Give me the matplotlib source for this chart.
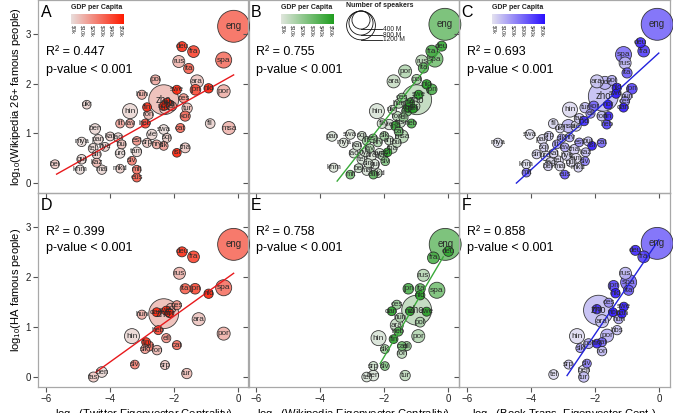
import matplotlib
matplotlib.use("Agg")
import matplotlib.pyplot as plt
import numpy as np
from matplotlib.colors import LinearSegmentedColormap
from matplotlib.patches import Circle

plt.rcParams["font.family"] = ["Liberation Sans", "DejaVu Sans"]
plt.rcParams["mathtext.default"] = "regular"

# speakers (millions) and GDP per capita ($k) per language
langs_info = ["eng", "zho", "spa", "hin", "ara", "por", "msa", "rus", "fra", "ben", "jpn", "deu",
              "ita", "tur", "kor", "vie", "pol", "ukr", "fas", "tha", "urd", "tam", "tel", "pan",
              "guj", "mal", "kaz", "sin", "mya", "khm", "swa", "fil", "ind", "nld", "swe", "dan",
              "nor", "fin", "isl", "ces", "slk", "slv", "hrv", "srp", "hbs", "bul", "mkd", "sqi",
              "ell", "ron", "hun", "est", "lav", "lit", "kat", "hye", "lao", "bel", "mlt", "eus",
              "cat", "heb"]
speakers = [1500, 1300, 290, 240, 150, 150, 150, 110, 100, 60, 60, 40,
            45, 50, 45, 50, 35, 0, 40, 35, 30, 30, 30, 30,
            25, 20, 8, 10, 20, 10, 30, 30, 20, 20, 10, 6,
            5, 5, 0.3, 11, 5, 2, 5, 9, 18, 8, 2, 7,
            13, 24, 13, 1, 2, 3, 4, 6, 15, 5, 0.5, 0.8,
            10, 9]
gdp = [30, 9, 28, 2, 7, 12, 11, 11, 40, 2, 39, 46,
       33, 9, 30, 2, 14, 3, 6, 6, 1, 2, 2, 2,
       2, 2, 10, 4, 1, 1, 1, 3, 45, 52, 54, 60,
       80, 47, 70, 20, 18, 25, 14, 6, 8, 8, 5, 5,
       20, 10, 13, 20, 15, 16, 4, 4, 2, 6, 28, 35,
       30, 40]

a_lang = ["eng", "deu", "fra", "rus", "ita", "spa", "pol", "ara", "jpn", "nld", "por", "hun", "zho",
          "swe", "ces", "fin", "ron", "tur", "kor", "hin", "ukr", "fil", "msa", "cat", "swa", "sqi",
          "vie", "ben", "lit", "lav", "heb", "est", "bul", "urd", "tam", "mya", "pan", "tel", "kat",
          "hye", "lao", "srp", "hrv", "slk", "tha", "isl", "sin", "guj", "kaz", "bel", "khm", "mal",
          "mkd", "slv", "mlt", "eus", "dan", "nor", "ell", "fas", "ind"]
a_x = [-0.15, -1.76, -1.40, -1.86, -1.55, -0.46, -2.59, -1.29, -1.34, -0.93, -0.46, -3.01, -2.33,
       -1.92, -1.71, -2.85, -2.80, -1.60, -1.66, -3.38, -4.73, -0.88, -0.30, -1.81, -2.33, -2.23,
       -2.70, -4.47, -3.69, -3.38, -2.90, -3.17, -3.64, -3.69, -3.17, -4.89, -4.37, -4.53, -4.00,
       -4.16, -3.75, -2.85, -2.55, -2.33, -1.66, -1.92, -4.42, -4.89, -4.42, -5.72, -4.94, -4.26,
       -3.69, -3.32, -3.17, -3.17, -2.23, -2.33, -2.07, -2.30, -2.15]
a_y = [3.16, 2.75, 2.65, 2.45, 2.31, 2.48, 2.08, 2.05, 1.88, 1.91, 1.85, 1.78, 1.68,
       1.88, 1.71, 1.53, 1.38, 1.51, 1.35, 1.45, 1.58, 1.20, 1.11, 1.11, 1.08, 0.91,
       0.98, 1.09, 1.20, 1.20, 1.20, 0.85, 0.78, 0.60, 0.63, 0.83, 0.88, 0.70, 0.94,
       0.73, 0.92, 0.81, 0.78, 0.75, 0.71, 0.61, 0.58, 0.48, 0.41, 0.38, 0.27, 0.27,
       0.29, 0.45, 0.27, 0.11, 1.62, 1.55, 1.55, 1.50, 1.58]

b_lang = ["eng", "deu", "fra", "spa", "rus", "ita", "por", "ara", "pol", "nld", "jpn", "zho", "swe",
          "ces", "fin", "hun", "tur", "kor", "dan", "nor", "hin", "ukr", "ron", "ell", "fil", "heb",
          "vie", "ind", "fas", "cat", "msa", "pan", "swa", "mya", "bul", "srp", "slk", "hrv", "est",
          "lit", "lav", "tha", "sqi", "kat", "hye", "urd", "tam", "tel", "lao", "sin", "guj", "kaz",
          "bel", "mal", "mkd", "isl", "slv", "khm", "mlt", "eus"]
b_x = [-0.11, -0.21, -0.52, -0.42, -0.83, -0.78, -1.35, -1.71, -0.99, -0.68, -0.52, -0.99, -0.93,
       -1.45, -1.20, -1.55, -1.05, -1.30, -1.25, -1.10, -2.23, -1.75, -1.60, -1.40, -2.07, -1.15,
       -1.85, -1.65, -1.50, -1.55, -1.45, -3.63, -3.06, -3.27, -1.61, -1.85, -2.00, -2.20, -2.35,
       -2.55, -2.45, -1.75, -2.70, -2.85, -2.60, -2.40, -2.15, -2.70, -2.95, -2.50, -2.30, -2.05,
       -2.80, -2.55, -2.20, -1.90, -1.97, -3.58, -3.06, -2.34]
b_y = [3.20, 2.76, 2.66, 2.50, 2.46, 2.32, 2.25, 2.05, 2.09, 1.99, 1.89, 1.68, 1.78,
       1.72, 1.62, 1.60, 1.55, 1.45, 1.52, 1.50, 1.45, 1.48, 1.35, 1.32, 1.20, 1.20,
       1.18, 1.15, 1.22, 1.04, 0.94, 0.94, 0.98, 0.81, 0.81, 0.86, 0.95, 0.82, 0.90,
       0.85, 0.70, 0.70, 0.95, 0.75, 0.62, 0.55, 0.60, 0.48, 0.60, 0.40, 0.38, 0.55,
       0.30, 0.25, 0.20, 0.62, 0.44, 0.31, 0.17, 0.17]

c_lang = ["eng", "deu", "fra", "spa", "rus", "ita", "ara", "pol", "por", "nld", "jpn", "hun", "ces",
          "dan", "zho", "swe", "fin", "ron", "tur", "kor", "hin", "nor", "ell", "heb", "fas", "ind",
          "vie", "cat", "bul", "fil", "msa", "ukr", "swa", "mya", "srp", "slk", "hrv", "est", "lit",
          "lav", "tha", "sqi", "kat", "hye", "urd", "tam", "sin", "tel", "guj", "lao", "kaz", "isl",
          "khm", "mlt", "eus", "mkd", "bel", "mal", "slv", "pan"]
c_x = [-0.07, -0.59, -0.49, -1.12, -1.07, -1.01, -1.95, -1.48, -1.70, -1.33, -0.86, -1.01, -1.07,
       -1.12, -1.75, -1.35, -1.59, -1.80, -2.32, -2.05, -2.79, -1.60, -2.15, -1.64, -2.50, -2.35,
       -2.60, -1.80, -2.22, -3.31, -2.84, -3.10, -4.04, -5.04, -3.45, -3.05, -2.80, -2.50, -3.20,
       -2.95, -2.65, -3.60, -3.30, -2.90, -3.55, -2.60, -3.83, -3.15, -2.75, -3.40, -2.30, -2.10,
       -4.15, -4.15, -2.95, -2.53, -3.47, -3.10, -2.32, -3.65]
c_y = [3.20, 2.83, 2.66, 2.59, 2.42, 2.22, 2.05, 2.07, 2.02, 1.92, 1.90, 1.75, 1.65,
       1.52, 1.75, 1.80, 1.35, 1.35, 1.52, 1.55, 1.48, 1.58, 1.40, 1.18, 1.30, 1.25,
       1.15, 0.81, 0.84, 1.20, 1.15, 1.10, 0.98, 0.81, 0.95, 0.90, 0.92, 0.82, 0.78,
       0.72, 0.68, 0.72, 0.60, 0.55, 0.55, 0.50, 0.58, 0.45, 0.42, 0.42, 0.62, 0.75,
       0.38, 0.21, 0.17, 0.31, 0.34, 0.34, 0.44, 0.88]

d_lang = ["eng", "deu", "fra", "rus", "ita", "jpn", "nld", "spa", "zho", "ces", "pol", "swe", "dan",
          "nor", "hun", "ara", "hin", "heb", "fin", "ell", "cat", "por", "slk", "ron", "kor", "slv",
          "srp", "tur", "fas", "ben"]
d_x = [-0.15, -1.76, -1.40, -1.84, -1.66, -1.35, -0.93, -0.46, -2.33, -1.92, -2.10, -2.25, -2.55,
       -2.15, -3.01, -1.24, -3.32, -2.50, -2.88, -2.25, -1.92, -0.46, -2.91, -2.54, -2.80, -3.23,
       -2.29, -1.61, -4.52, -4.26]
d_y = [2.66, 2.51, 2.41, 2.08, 1.77, 1.77, 1.67, 1.79, 1.27, 1.44, 1.38, 1.33, 1.30,
       1.28, 1.25, 1.16, 0.82, 0.94, 0.70, 0.78, 0.64, 0.87, 0.56, 0.54, 0.62, 0.25,
       0.24, 0.07, 0.00, 0.10]

e_lang = ["eng", "deu", "fra", "rus", "jpn", "ita", "spa", "nld", "zho", "ces", "dan", "swe", "nor",
          "pol", "hun", "ara", "heb", "hin", "por", "fin", "cat", "ron", "slk", "slv", "srp", "ben",
          "tel", "tur", "ell"]
e_x = [-0.10, 0.00, -0.47, -0.78, -1.25, -0.88, -0.36, -0.88, -0.99, -1.61, -1.77, -0.68, -1.20,
       -0.88, -1.51, -1.61, -1.56, -2.18, -0.94, -1.71, -1.45, -1.45, -1.98, -1.98, -2.34, -2.34,
       -2.55, -1.35, -1.30]
e_y = [2.66, 2.52, 2.39, 2.04, 1.77, 1.77, 1.74, 1.64, 1.34, 1.45, 1.32, 1.31, 1.32,
       1.10, 1.19, 1.04, 0.91, 0.78, 0.82, 0.76, 0.62, 0.47, 0.56, 0.22, 0.22, 0.03,
       0.00, 0.03, 0.62]

f_lang = ["eng", "deu", "fra", "rus", "spa", "ita", "jpn", "nld", "zho", "ind", "ces", "swe", "dan",
          "hun", "ara", "hbs", "hin", "por", "cat", "fin", "pol", "slk", "ron", "slv", "srp", "ben",
          "tur", "tel", "nor"]
f_x = [-0.07, -0.75, -0.49, -1.06, -0.96, -0.96, -1.43, -1.37, -1.90, -1.95, -1.58, -1.11, -1.17,
       -1.27, -1.79, -1.32, -2.57, -1.63, -1.79, -1.95, -2.21, -2.47, -1.79, -2.26, -2.83, -2.36,
       -2.36, -3.30, -1.45]
f_y = [2.68, 2.54, 2.41, 2.08, 1.90, 1.74, 1.83, 1.68, 1.34, 1.36, 1.49, 1.41, 1.27,
       1.16, 1.12, 0.94, 0.82, 0.83, 0.70, 0.67, 0.67, 0.58, 0.52, 0.27, 0.25, 0.13,
       0.00, 0.05, 1.30]

# fitted regression lines: x range, y at both ends
fit_x0 = [-5.67, -3.47, -4.46, -4.44, -2.13, -2.88]
fit_x1 = [-0.15, -0.16, -0.02, -0.15, -0.16, -0.02]
fit_y0 = [0.18, 0.04, 0.00, 0.10, 0.27, 0.03]
fit_y1 = [2.18, 2.76, 2.62, 2.08, 2.41, 2.75]

r2_text = ["R² = 0.447", "R² = 0.755", "R² = 0.693", "R² = 0.399", "R² = 0.758", "R² = 0.858"]
panel_letters = ["A", "B", "C", "D", "E", "F"]
x_labels = ["log$_{10}$(Twitter Eigenvector Centrality)",
            "log$_{10}$(Wikipedia Eigenvector Centrality)",
            "log$_{10}$(Book Trans. Eigenvector Cent.)"]
y_labels = ["log$_{10}$(Wikipedia 26+ famous people)", "log$_{10}$(HA famous people)"]
gdp_ticks = [0, 10, 20, 30, 40, 50]
legend_sizes = [400, 800, 1200]

cmaps = [LinearSegmentedColormap.from_list("r", ["#e9dedc", "#ff1a00"]),
         LinearSegmentedColormap.from_list("g", ["#e0e6dd", "#1f9e1f"]),
         LinearSegmentedColormap.from_list("b", ["#e4e2f0", "#2a10ff"])]
line_colors = ["#e8191c", "#3aaa3a", "#2222dd"]

spk = dict(zip(langs_info, speakers))
gdpd = dict(zip(langs_info, gdp))


def diam(m):
    # bubble diameter in pixels
    return np.sqrt(75 + 0.63 * np.asarray(m, dtype=float))


panels = [(a_lang, a_x, a_y), (b_lang, b_x, b_y), (c_lang, c_x, c_y),
          (d_lang, d_x, d_y), (e_lang, e_x, e_y), (f_lang, f_x, f_y)]

W, H = 673, 413
fig = plt.figure(figsize=(W / 100, H / 100), dpi=100)
col_left = [38, 248, 459]
pw = 211

for i, (lang, xs, ys) in enumerate(panels):
    row, col = divmod(i, 3)
    if row == 0:
        bot, hgt = (H - 193) / H, 193 / H
    else:
        bot, hgt = 26 / H, 194 / H
    ax = fig.add_axes([col_left[col] / W, bot, pw / W, hgt])
    ax.set_facecolor("none")
    ax.set_xlim(-6.25, 0.33)
    ax.set_ylim(-0.2, 3.69)
    for sp in ax.spines.values():
        sp.set_color("#a8a8a8")
        sp.set_linewidth(0.9)
    ax.set_xticks([-6, -4, -2, 0])
    ax.set_yticks([0, 1, 2, 3])
    ax.tick_params(direction="out", length=3.5, width=0.8, color="#555555",
                   labelsize=7, labelcolor="#222222", pad=1.5)
    if row == 0:
        ax.tick_params(labelbottom=False)
    else:
        ax.set_xlabel(x_labels[col], fontsize=8, labelpad=2)
    if col > 0:
        ax.tick_params(labelleft=False)
    else:
        ax.set_ylabel(y_labels[row], fontsize=8, labelpad=2)

    cmap = cmaps[col]
    xs = np.array(xs)
    ys = np.array(ys)
    d = diam([spk[l] for l in lang])
    g = np.array([min(gdpd[l], 50) for l in lang])
    order = np.argsort(-d)
    ax.scatter(xs[order], ys[order], s=(d[order] * 0.72) ** 2, c=g[order], cmap=cmap,
               vmin=0, vmax=50, edgecolors="#222222", linewidths=0.6, alpha=0.88,
               clip_on=False, zorder=3)

    ax.plot([fit_x0[i], fit_x1[i]], [fit_y0[i], fit_y1[i]], color=line_colors[col],
            lw=1.0, zorder=4)

    for l, x, y, dd in zip(lang, xs, ys, d):
        ax.text(x, y, l, fontsize=5.1 + 0.06 * dd, ha="center", va="center",
                color="#2a2a2a", zorder=5, clip_on=False)

    if row == 0:
        ax.text(0.012, 0.933, panel_letters[i], transform=ax.transAxes, fontsize=11.5,
                va="center", ha="left")
        ax.text(0.04, 0.73, r2_text[i], transform=ax.transAxes, fontsize=9, va="center")
        ax.text(0.04, 0.637, "p-value < 0.001", transform=ax.transAxes, fontsize=9, va="center")
        cax = ax.inset_axes([0.155, 0.878, 0.248, 0.05])
        cax.imshow(np.linspace(0, 1, 256)[None, :], cmap=cmap, aspect="auto",
                   extent=[-2, 52, 0, 1])
        cax.set_xlim(-2, 52)
        cax.set_xticks(gdp_ticks)
        cax.set_xticklabels(["\\$%dk" % t for t in gdp_ticks])
        cax.set_yticks([])
        cax.tick_params(length=0, labelsize=4, pad=1, labelrotation=-90, labelcolor="#333333")
        for sp in cax.spines.values():
            sp.set_visible(False)
        ax.text(0.279, 0.96, "GDP per Capita", transform=ax.transAxes, fontsize=5,
                fontweight="bold", ha="center", va="center", color="#222222")
    else:
        ax.text(0.012, 0.938, panel_letters[i], transform=ax.transAxes, fontsize=11.5,
                va="center", ha="left")
        ax.text(0.04, 0.80, r2_text[i], transform=ax.transAxes, fontsize=9, va="center")
        ax.text(0.04, 0.715, "p-value < 0.001", transform=ax.transAxes, fontsize=9, va="center")

    if i == 1:
        # size legend, inset with 1 data unit = 1 pixel
        sax = ax.inset_axes([95 / pw, 151 / 193, 70 / pw, 34 / 193])
        sax.set_xlim(0, 70)
        sax.set_ylim(0, 34)
        sax.axis("off")
        for m in legend_sizes:
            dd = float(diam(m))
            sax.add_patch(Circle((18, 31 - dd / 2), dd / 2, fill=False, ec="#111111", lw=0.6))
            yb = 31 - dd
            sax.plot([18, 39], [yb, yb], color="#111111", lw=0.6)
            sax.text(40, yb, "%d M" % m, fontsize=4.8, va="center", ha="left", color="#222222")
        ax.text(0.626, 0.969, "Number of speakers", transform=ax.transAxes, fontsize=5,
                fontweight="bold", ha="center", va="center", color="#222222")

fig.savefig("out.png", dpi=100, facecolor="white")
plt.close(fig)
